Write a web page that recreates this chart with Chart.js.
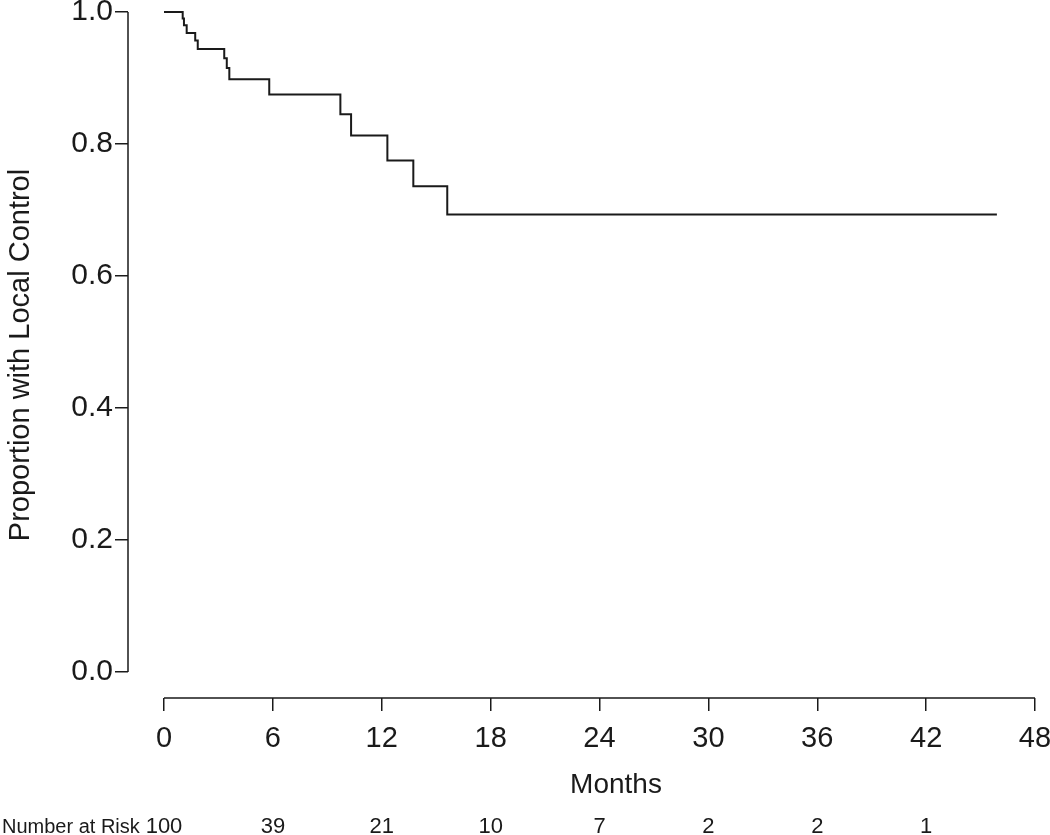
<!DOCTYPE html>
<html>
<head>
<meta charset="utf-8">
<script src="https://cdn.jsdelivr.net/npm/chart.js@4.4.1/dist/chart.umd.min.js"></script>
<style>
  html, body { margin: 0; padding: 0; background: #fff; }
  #wrap { width: 1050px; height: 835px; position: relative; }
</style>
</head>
<body>
<div id="wrap"><canvas id="c" width="1050" height="835"></canvas></div>
<script>
// Kaplan-Meier local control estimate (months, proportion)
const months = [0, 1.03, 1.10, 1.25, 1.72, 1.86, 3.32, 3.46, 3.60, 5.80, 9.72, 10.31, 12.31, 13.74, 15.61, 45.9];
const survival = [1.0, 0.990, 0.980, 0.968, 0.957, 0.944, 0.930, 0.915, 0.898, 0.875, 0.845, 0.813, 0.775, 0.736, 0.693, 0.693];

const xTicks = [0, 6, 12, 18, 24, 30, 36, 42, 48];
const yTicks = [0, 0.2, 0.4, 0.6, 0.8, 1.0];

const riskTimes = [0, 6, 12, 18, 24, 30, 36, 42];
const riskCounts = [100, 39, 21, 10, 7, 2, 2, 1];

const FONT = "'Liberation Sans', Arial, Helvetica, sans-serif";
const INK = '#1a1a1a';

const axesPlugin = {
  id: 'rAxes',
  afterDraw(chart) {
    const ctx = chart.ctx;
    const xs = chart.scales.x, ys = chart.scales.y;
    ctx.save();
    ctx.strokeStyle = INK;
    ctx.lineWidth = 1.5;
    ctx.beginPath();
    ctx.moveTo(xs.getPixelForValue(xTicks[0]), xs.top);
    ctx.lineTo(xs.getPixelForValue(xTicks[xTicks.length - 1]), xs.top);
    ctx.moveTo(ys.right, ys.getPixelForValue(yTicks[0]));
    ctx.lineTo(ys.right, ys.getPixelForValue(yTicks[yTicks.length - 1]));
    ctx.stroke();

    ctx.fillStyle = INK;
    // x axis title
    ctx.font = '28px ' + FONT;
    ctx.textAlign = 'center';
    ctx.textBaseline = 'alphabetic';
    ctx.fillText('Months', 616, 793);

    // number at risk row
    ctx.font = '20px ' + FONT;
    ctx.textAlign = 'left';
    ctx.fillText('Number at Risk', 2, 833);
    ctx.font = '22px ' + FONT;
    ctx.textAlign = 'center';
    riskTimes.forEach((t, i) => {
      ctx.fillText(String(riskCounts[i]), xs.getPixelForValue(t), 833);
    });
    ctx.restore();
  }
};

const xMin = -(164 - 128) / ((1035 - 164) / 48);
const yMin = 1 - (698 - 12) / 660;

new Chart(document.getElementById('c'), {
  type: 'line',
  data: {
    datasets: [{
      data: months.map((m, i) => ({ x: m, y: survival[i] })),
      stepped: true,
      borderColor: INK,
      borderWidth: 2,
      pointRadius: 0,
      fill: false,
      clip: false
    }]
  },
  options: {
    responsive: false,
    animation: false,
    devicePixelRatio: 1,
    layout: { padding: { top: 12, right: 15, left: 0, bottom: 0 } },
    plugins: { legend: { display: false }, tooltip: { enabled: false } },
    scales: {
      x: {
        type: 'linear',
        min: xMin,
        max: 48,
        afterBuildTicks: (s) => { s.ticks = xTicks.map(v => ({ value: v })); },
        afterFit: (s) => { s.height = 137; s.paddingLeft = 0; s.paddingRight = 0; },
        border: { display: false },
        grid: { drawOnChartArea: false, drawTicks: true, tickLength: 13, color: INK, lineWidth: 1.5 },
        ticks: {
          color: INK, padding: 11, maxRotation: 0, autoSkip: false,
          font: { family: FONT, size: 29 },
          callback: (v) => String(v)
        }
      },
      y: {
        type: 'linear',
        min: yMin,
        max: 1,
        afterBuildTicks: (s) => { s.ticks = yTicks.map(v => ({ value: v })); },
        afterFit: (s) => { s.width = 128; s.paddingTop = 0; s.paddingBottom = 0; },
        border: { display: false },
        grid: { drawOnChartArea: false, drawTicks: true, tickLength: 13, color: INK, lineWidth: 1.5 },
        ticks: {
          color: INK, padding: 2, autoSkip: false,
          font: { family: FONT, size: 30 },
          callback: (v) => Number(v).toFixed(1)
        },
        title: {
          display: true,
          text: 'Proportion with Local Control',
          color: INK,
          font: { family: FONT, size: 29 },
          padding: { top: 4, bottom: 0 }
        }
      }
    }
  },
  plugins: [axesPlugin]
});
</script>
</body>
</html>
